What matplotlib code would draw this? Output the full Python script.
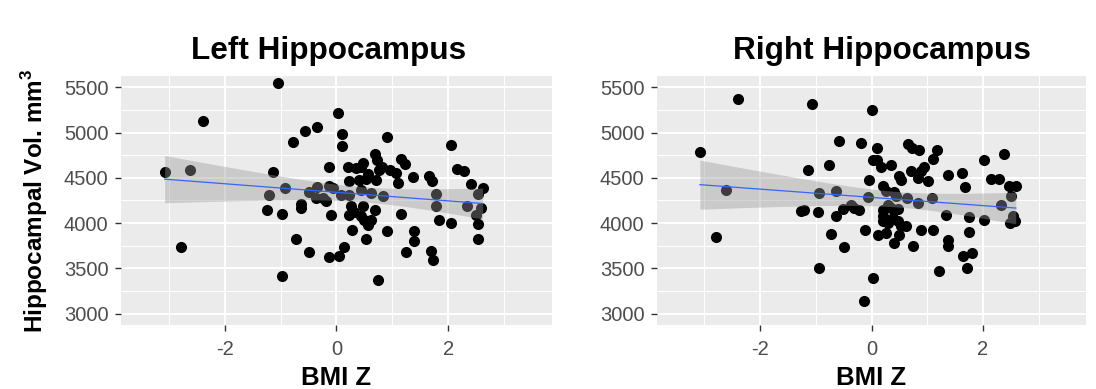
import numpy as np
import matplotlib
matplotlib.use("Agg")
import matplotlib.pyplot as plt

plt.rcParams['font.family'] = ['Liberation Sans', 'DejaVu Sans']
plt.rcParams['axes.unicode_minus'] = False

# BMI z-score vs hippocampal volume (mm^3), left hemisphere
left_bmi = [-3.07, -2.62, -2.38, -2.78, -1.05, -1.13, -1.21, -0.92, -1.24, -0.97,
            -0.77, -0.56, -0.34, -0.64, -0.63, -0.72, -0.49, -0.97, -0.50, -0.34,
            -0.36, 0.02, 0.10, 0.10, -0.14, 0.20, 0.90, 0.68, 0.73, 0.47,
            0.43, 0.56, 0.35, 0.76, 0.82, 0.95, 1.06, 1.15, 1.22, 1.10,
            1.36, 0.70, 0.53, 0.41, 0.23, -0.13, -0.07, 0.08, -0.25, -0.19,
            0.23, 0.44, 0.62, 0.83, -0.10, 0.26, 0.47, 0.32, 0.23, 0.68,
            0.62, 0.50, 0.44, 0.56, 1.15, 0.90, 0.28, 0.52, -0.13, 0.04,
            0.14, 0.74, 1.25, 2.04, 1.65, 1.71, 2.16, 2.28, 2.40, 2.61,
            2.52, 1.78, 1.78, 2.34, 2.58, 2.49, 2.52, 2.52, 1.84, 2.04,
            1.39, 1.39, 1.69, 1.72]
left_vol = [4570, 4592, 5126, 3737, 5543, 4570, 4312, 4385, 4149, 4102,
            4901, 5023, 5064, 4212, 4168, 3829, 3685, 3412, 4348, 4400,
            4282, 5211, 4987, 4850, 4617, 4622, 4949, 4769, 4702, 4666,
            4622, 4548, 4611, 4592, 4622, 4592, 4555, 4706, 4652, 4445,
            4505, 4481, 4489, 4481, 4462, 4407, 4389, 4315, 4279, 4241,
            4315, 4371, 4334, 4297, 4094, 4194, 4186, 4119, 4094, 4142,
            4039, 4039, 4075, 3983, 4100, 3917, 3920, 3825, 3626, 3641,
            3737, 3367, 3680, 4868, 4525, 4470, 4600, 4573, 4437, 4389,
            4326, 4326, 4186, 4194, 4168, 4094, 3994, 3825, 4031, 4002,
            3910, 3799, 3688, 3596]

# right hemisphere
right_bmi = [-3.08, -2.39, -2.62, -2.79, -1.06, -0.58, -0.18, -0.77, -1.14, -0.94,
             -0.64, -1.26, -1.21, -0.96, -0.64, -0.51, -0.37, -0.31, -0.22, -0.73,
             -0.50, -0.95, -0.13, 0.01, 0.10, 0.10, 0.02, 0.17, 0.35, 0.65,
             0.73, 0.86, 1.17, 1.11, 0.95, 0.89, 0.71, 0.83, 0.50, 0.53,
             1.01, -0.05, 0.20, 0.26, 0.41, 0.44, -0.07, 0.64, 0.83, 1.08,
             0.29, 0.35, 0.47, 0.20, 0.20, 0.20, 0.29, 0.38, 0.47, 0.53,
             0.62, 1.10, 0.89, -0.11, 0.11, 0.26, 0.50, 0.41, 0.74, 0.02,
             1.22, 1.38, 1.62, 1.68, 2.02, 2.38, 2.14, 2.28, 2.47, 2.59,
             2.50, 2.32, 2.54, 2.49, 2.58, 1.33, 1.75, 2.02, 1.75, 1.38,
             1.38, 1.65, 1.81, 1.71]
right_vol = [4783, 5374, 4371, 3847, 5311, 4903, 4887, 4647, 4584, 4334,
             4352, 4138, 4149, 4125, 4075, 4153, 4205, 4168, 4149, 3884,
             3740, 3505, 3143, 5255, 4832, 4702, 4702, 4622, 4647, 4879,
             4832, 4813, 4805, 4706, 4622, 4573, 4573, 4500, 4518, 4481,
             4462, 4473, 4407, 4352, 4341, 4297, 4290, 4279, 4224, 4279,
             4205, 4168, 4157, 4149, 4075, 4020, 4002, 4057, 4020, 3965,
             3965, 3928, 3920, 3920, 3873, 3892, 3873, 3781, 3751, 3394,
             3467, 4529, 4555, 4396, 4695, 4769, 4492, 4492, 4407, 4415,
             4297, 4201, 4075, 4002, 4020, 4094, 4069, 4039, 3898, 3818,
             3744, 3633, 3670, 3505]

titles = ["Left Hippocampus", "Right Hippocampus"]
x_label = "BMI Z"
y_label = "Hippocampal Vol. mm$^\\mathregular{3}$"
x_ticks = [-2, 0, 2]
x_minor = [-3, -1, 1, 3]
y_ticks = [3000, 3500, 4000, 4500, 5000, 5500]
y_minor = [3250, 3750, 4250, 4750, 5250]

T_CRIT = 1.986  # two-sided 95% t quantile, df ~ 92

W, H = 1096, 389
fig = plt.figure(figsize=(W / 100, H / 100), dpi=100, facecolor='white')


def px_rect(l, t, r, b):
    return [l / W, 1 - b / H, (r - l) / W, (b - t) / H]


def lm_band(x, y):
    x = np.asarray(x, float)
    y = np.asarray(y, float)
    n = len(x)
    b1, b0 = np.polyfit(x, y, 1)
    resid = y - (b0 + b1 * x)
    s = np.sqrt(np.sum(resid ** 2) / (n - 2))
    sxx = np.sum((x - x.mean()) ** 2)
    xs = np.linspace(x.min(), x.max(), 80)
    fit = b0 + b1 * xs
    se = s * np.sqrt(1 / n + (xs - x.mean()) ** 2 / sxx)
    return xs, fit, fit - T_CRIT * se, fit + T_CRIT * se


def panel(rect, xs, ys, title, title_x):
    ax = fig.add_axes(rect)
    ax.set_facecolor('#EBEBEB')
    for s in ax.spines.values():
        s.set_visible(False)
    ax.set_xlim(-3.85, 3.85)
    ax.set_ylim(2875, 5625)
    ax.set_xticks(x_ticks)
    ax.set_xticklabels([str(v) for v in x_ticks])
    ax.set_yticks(y_ticks)
    ax.set_xticks(x_minor, minor=True)
    ax.set_yticks(y_minor, minor=True)
    ax.grid(which='major', color='white', lw=1.4, zorder=0)
    ax.grid(which='minor', color='white', lw=0.7, zorder=0)
    ax.set_axisbelow(True)
    ax.tick_params(which='major', length=4, width=1.0, color='#333333',
                   labelsize=14.5, labelcolor='#4D4D4D')
    ax.tick_params(axis='x', which='major', pad=7)
    ax.tick_params(axis='y', which='major', pad=5)
    ax.tick_params(which='minor', length=0)

    ax.scatter(xs, ys, s=64, color='black', linewidths=0, zorder=3)
    gx, fit, lo, hi = lm_band(xs, ys)
    ax.fill_between(gx, lo, hi, color='#999999', alpha=0.4, lw=0, zorder=4)
    ax.plot(gx, fit, color='#3366FF', lw=0.9, zorder=5)

    fig.text(title_x / W, 1 - 59 / H, title, ha='center', va='baseline',
             fontsize=22.7, fontweight='bold', color='black')
    cx = (rect[0] + rect[2] / 2)
    fig.text(cx, 1 - 385 / H, x_label, ha='center', va='baseline',
             fontsize=18.5, fontweight='bold', color='black')
    return ax


panel(px_rect(121, 76, 552, 325), left_bmi, left_vol, titles[0], 329)
panel(px_rect(657, 76, 1086, 325), right_bmi, right_vol, titles[1], 882)

fig.text(35 / W, 1 - 200.5 / H, y_label, rotation=90, ha='center', va='center',
         fontsize=17.5, fontweight='bold', color='black')

fig.savefig('out.png', dpi=100, facecolor='white')
